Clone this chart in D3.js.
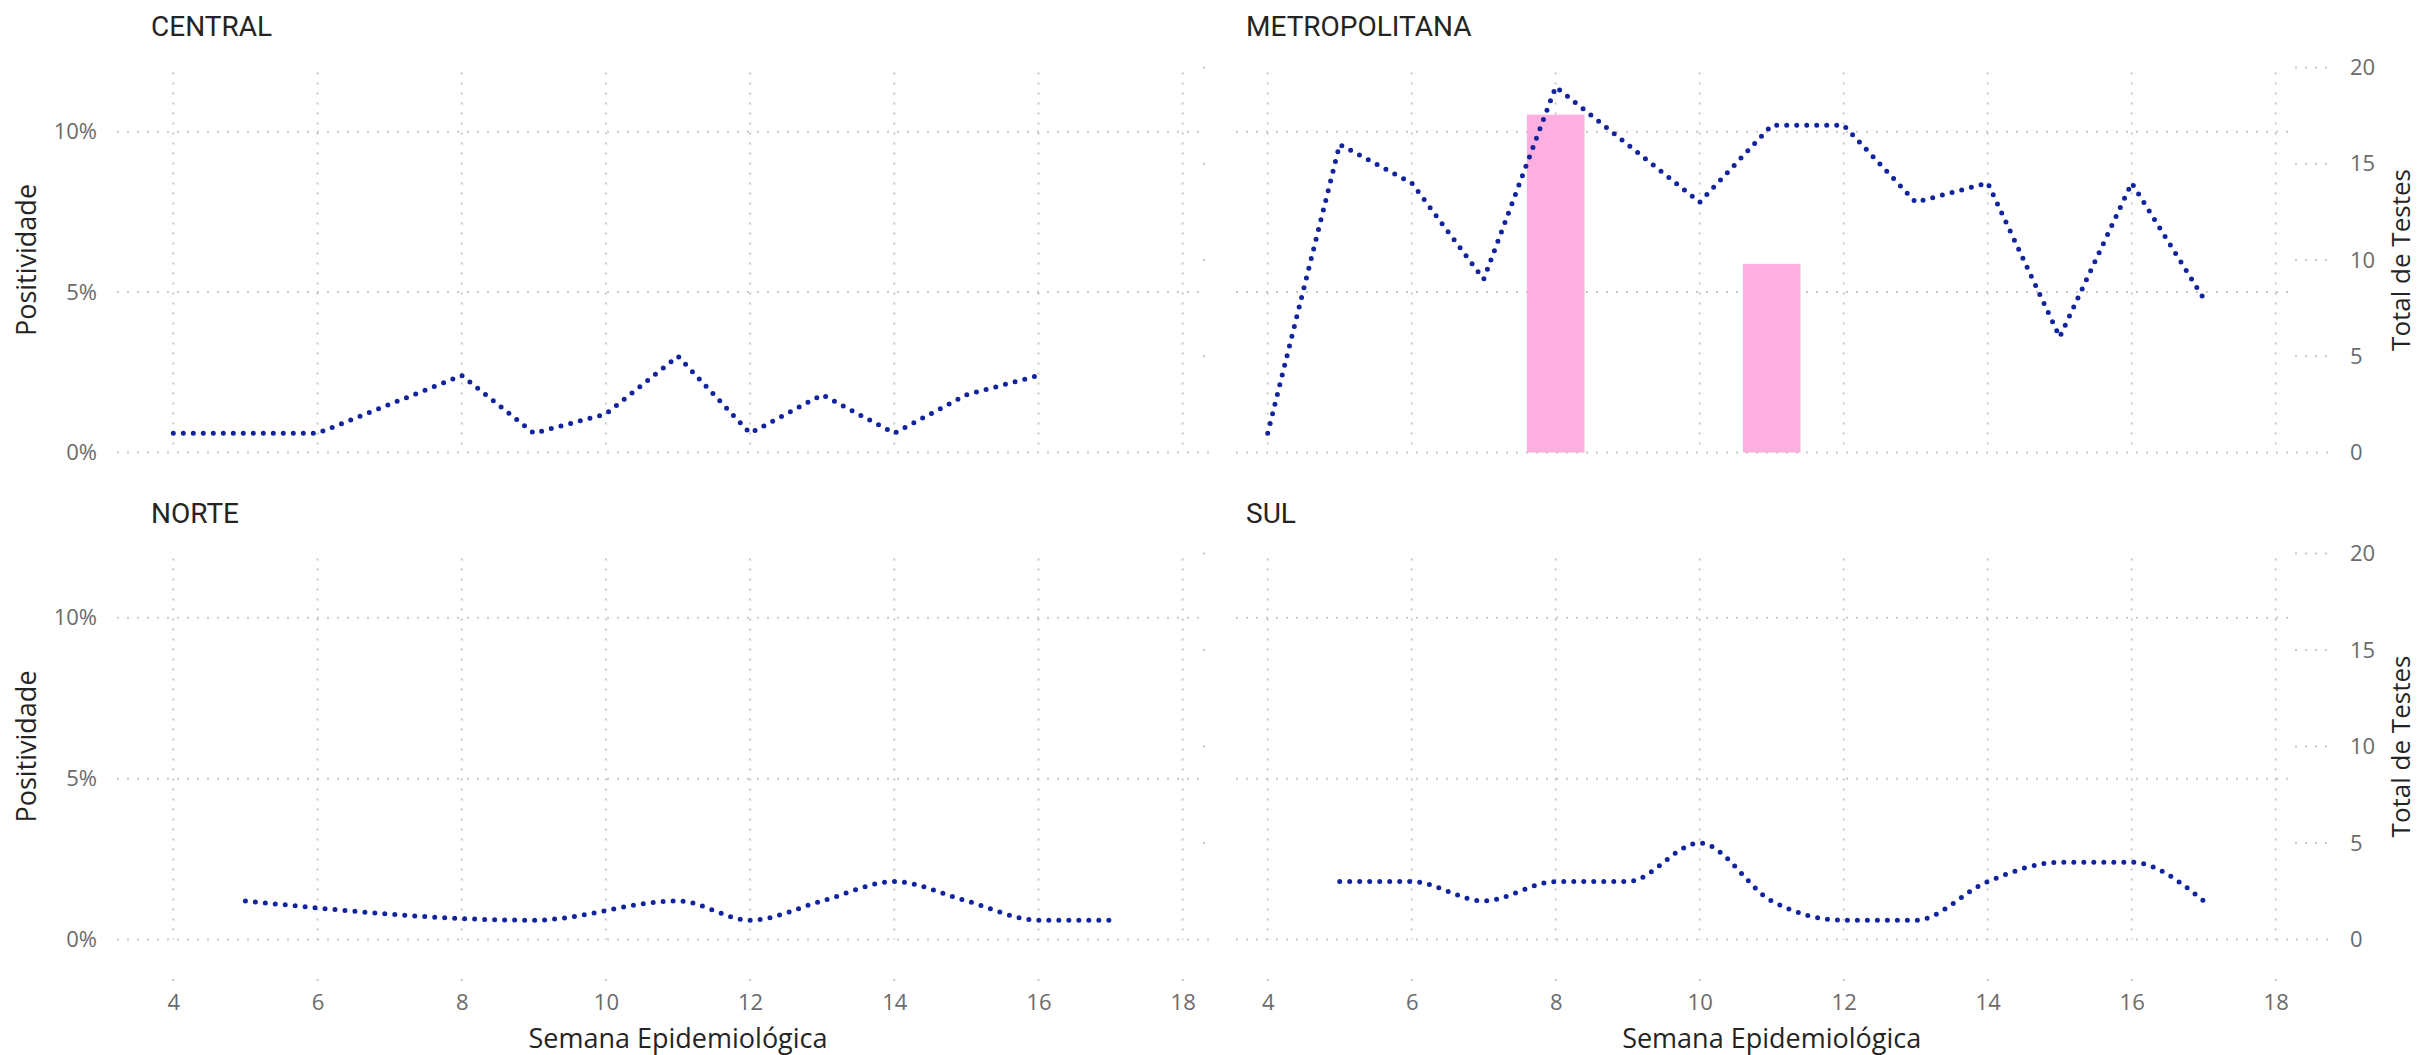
<!DOCTYPE html>
<html>
<head>
<meta charset="utf-8">
<script src="https://d3js.org/d3.v7.min.js"></script>
<style>
  body { margin: 0; background: #ffffff; }
  .tick text { font-family: "Open Sans", sans-serif; font-size: 22px; fill: #6b6b6b; }
</style>
</head>
<body>
<div id="chart"></div>
<script>
// weeks and values per region (Total de Testes = line, Positividade = bars)
var centralWeeks = [4, 5, 6, 8, 9, 10, 11, 12, 13, 14, 15, 16];
var centralTestes = [1, 1, 1, 4, 1, 2, 5, 1, 3, 1, 3, 4];
var centralPositWeeks = [];
var centralPositividade = [];

var metroWeeks = [4, 5, 6, 7, 8, 9, 10, 11, 12, 13, 14, 15, 16, 17];
var metroTestes = [1, 16, 14, 9, 19, 16, 13, 17, 17, 13, 14, 6, 14, 8];
var metroPositWeeks = [8, 11];
var metroPositividade = [0.1053, 0.0588];

var norteWeeks = [5, 9, 11, 12, 13, 14, 15, 16, 17];
var norteTestes = [2, 1, 2, 1, 2, 3, 2, 1, 1];
var nortePositWeeks = [];
var nortePositividade = [];

var sulWeeks = [5, 6, 7, 8, 9, 10, 11, 12, 13, 14, 15, 16, 17];
var sulTestes = [3, 3, 2, 3, 3, 5, 2, 1, 1, 3, 4, 4, 2];
var sulPositWeeks = [];
var sulPositividade = [];

var xTicks = [4, 6, 8, 10, 12, 14, 16, 18];
var positTicks = [0, 0.05, 0.10];
var testesTicks = [0, 5, 10, 15, 20];

var panels = [
  { title: "CENTRAL", col: 0, row: 0, weeks: centralWeeks, testes: centralTestes, pw: centralPositWeeks, pv: centralPositividade },
  { title: "METROPOLITANA", col: 1, row: 0, weeks: metroWeeks, testes: metroTestes, pw: metroPositWeeks, pv: metroPositividade },
  { title: "NORTE", col: 0, row: 1, weeks: norteWeeks, testes: norteTestes, pw: nortePositWeeks, pv: nortePositividade },
  { title: "SUL", col: 1, row: 1, weeks: sulWeeks, testes: sulTestes, pw: sulPositWeeks, pv: sulPositividade }
];

// panel geometry
var cols = [
  { x0: 117, xp: 1203, x1: 1212, w4: 173.3, w18: 1182.7 },
  { x0: 1236, xp: 2295, x1: 2332, w4: 1267.7, w18: 2275.7 }
];
var rows = [
  { y0: 452.5, y20: 67.5, titleY: 36 },
  { y0: 939.5, y20: 553.5, titleY: 523 }
];

var gridColor = "#c8c8c8";
var lineColor = "#12239e";
var barColor = "#fdb0df";
var textDark = "#252423";

var svg = d3.select("#chart")
  .append("svg")
  .attr("width", 2419)
  .attr("height", 1055);

panels.forEach(function(p) {
  var c = cols[p.col];
  var r = rows[p.row];

  var x = d3.scaleLinear().domain([4, 18]).range([c.w4, c.w18]);
  var yL = d3.scaleLinear().domain([0, 0.12]).range([r.y0, r.y20]);
  var yR = d3.scaleLinear().domain([0, 20]).range([r.y0, r.y20]);

  var g = svg.append("g");

  // vertical gridlines
  g.selectAll(".vgrid")
    .data(xTicks)
    .enter()
    .append("line")
    .attr("x1", d => x(d))
    .attr("x2", d => x(d))
    .attr("y1", r.y20 + 5)
    .attr("y2", r.y0)
    .attr("stroke", gridColor)
    .attr("stroke-width", 2)
    .attr("stroke-dasharray", "2 8");

  // little tick dots under the bottom panels
  if (p.row === 1) {
    g.selectAll(".tdot")
      .data(xTicks)
      .enter()
      .append("line")
      .attr("x1", d => x(d))
      .attr("x2", d => x(d))
      .attr("y1", 979)
      .attr("y2", 981)
      .attr("stroke", gridColor)
      .attr("stroke-width", 2);
  }

  // horizontal gridlines of the left axis
  g.selectAll(".hgrid")
    .data(positTicks)
    .enter()
    .append("line")
    .attr("x1", c.x0)
    .attr("x2", d => d === 0 ? c.x1 : c.xp)
    .attr("y1", d => yL(d))
    .attr("y2", d => yL(d))
    .attr("stroke", gridColor)
    .attr("stroke-width", 2)
    .attr("stroke-dasharray", "2 8");

  // short stubs of the right axis gridlines
  g.selectAll(".rgrid")
    .data(testesTicks.filter(d => d > 0))
    .enter()
    .append("line")
    .attr("x1", c.xp)
    .attr("x2", c.x1)
    .attr("y1", d => yR(d))
    .attr("y2", d => yR(d))
    .attr("stroke", gridColor)
    .attr("stroke-width", 2)
    .attr("stroke-dasharray", "2 8");

  // bars (Positividade)
  var bw = 0.8 * (x(5) - x(4));
  var barData = p.pw.map((w, i) => ({ w: w, v: p.pv[i] }));
  g.selectAll(".bar")
    .data(barData)
    .enter()
    .append("rect")
    .attr("x", d => x(d.w) - bw / 2)
    .attr("y", d => yL(d.v))
    .attr("width", bw)
    .attr("height", d => yL(0) - yL(d.v))
    .attr("fill", barColor);

  // line (Total de Testes)
  var lineData = p.weeks.map((w, i) => ({ w: w, v: p.testes[i] }));
  var line = d3.line()
    .x(d => x(d.w))
    .y(d => yR(d.v))
    .curve(p.row === 1 ? d3.curveMonotoneX : d3.curveLinear);

  g.append("path")
    .datum(lineData)
    .attr("d", line)
    .attr("fill", "none")
    .attr("stroke", lineColor)
    .attr("stroke-width", 5)
    .attr("stroke-linecap", "round")
    .attr("stroke-dasharray", "0 10");

  // panel title
  g.append("text")
    .attr("x", c.x0 + 34 + (p.col === 1 ? -24 : 0))
    .attr("y", r.titleY)
    .attr("font-family", "Roboto, sans-serif")
    .attr("font-size", "28px")
    .attr("fill", textDark)
    .text(p.title);

  // left axis
  if (p.col === 0) {
    var leftAxis = d3.axisLeft(yL)
      .tickValues(positTicks)
      .tickFormat(d3.format(".0%"))
      .tickSize(0)
      .tickPadding(8);
    g.append("g")
      .attr("transform", "translate(105,0)")
      .call(leftAxis)
      .call(a => a.select(".domain").remove());

    g.append("text")
      .attr("transform", `translate(36, ${(r.y0 + r.y20) / 2}) rotate(-90)`)
      .attr("text-anchor", "middle")
      .attr("font-family", "Open Sans, sans-serif")
      .attr("font-size", "27px")
      .attr("fill", textDark)
      .text("Positividade");
  }

  // right axis
  if (p.col === 1) {
    var rightAxis = d3.axisRight(yR)
      .tickValues(testesTicks)
      .tickSize(0)
      .tickPadding(8);
    g.append("g")
      .attr("transform", "translate(2342,0)")
      .call(rightAxis)
      .call(a => a.select(".domain").remove());

    g.append("text")
      .attr("transform", `translate(2410, ${(r.y0 + r.y20) / 2}) rotate(-90)`)
      .attr("text-anchor", "middle")
      .attr("font-family", "Open Sans, sans-serif")
      .attr("font-size", "26px")
      .attr("fill", textDark)
      .text("Total de Testes");
  }

  // x axis on the bottom row
  if (p.row === 1) {
    var bottomAxis = d3.axisBottom(x)
      .tickValues(xTicks)
      .tickSize(0)
      .tickPadding(8);
    g.append("g")
      .attr("transform", "translate(0,986)")
      .call(bottomAxis)
      .call(a => a.select(".domain").remove());

    g.append("text")
      .attr("x", x(11))
      .attr("y", 1048)
      .attr("text-anchor", "middle")
      .attr("font-family", "Open Sans, sans-serif")
      .attr("font-size", "27px")
      .attr("fill", textDark)
      .text("Semana Epidemiológica");
  }
});
</script>
</body>
</html>
